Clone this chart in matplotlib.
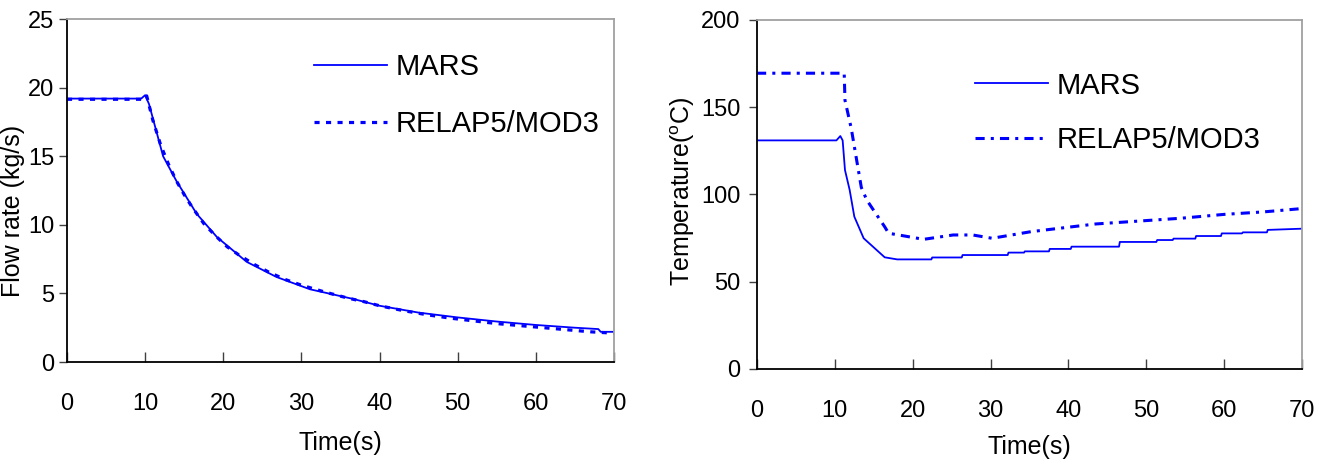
import numpy as np
import matplotlib
matplotlib.use('Agg')
import matplotlib.pyplot as plt

plt.rcParams['font.family'] = ['Liberation Sans', 'DejaVu Sans']
plt.rcParams['mathtext.fontset'] = 'custom'
plt.rcParams['mathtext.rm'] = 'Liberation Sans'

# flow rate panel
flow_t_mars = [0, 9.5, 10.0, 10.5, 12.3, 14.0, 16.6, 19.2, 23.0, 26.8, 31.1, 36.6, 40, 45, 50, 55, 60, 65, 68, 68.3, 70]
flow_mars = [19.2, 19.2, 19.45, 18.8, 15.0, 13.2, 10.8, 9.1, 7.3, 6.2, 5.3, 4.6, 4.1, 3.6, 3.25, 2.95, 2.7, 2.5, 2.4, 2.2, 2.2]
flow_t_relap = [0, 9.8, 10.2, 11, 12, 13, 14, 15, 16, 17.5, 19, 20.5, 22, 24, 26, 28, 30, 33, 36, 38, 40,
                43, 46, 49, 52, 55, 58, 61, 64, 67, 70]
flow_relap = [19.15, 19.15, 19.4, 17.6, 15.8, 14.4, 13.2, 12.2, 11.3, 10.1, 9.2, 8.4, 7.8, 7.1, 6.5, 6.0, 5.6,
              5.1, 4.65, 4.4, 4.1, 3.75, 3.45, 3.2, 3.0, 2.8, 2.65, 2.5, 2.35, 2.2, 2.1]

# temperature panel
temp_t_mars = [0, 10.2, 10.7, 11.0, 11.3, 11.9, 12.5, 13.7, 16.4, 18.0, 22.4, 22.5, 26.3, 26.4, 32.2, 32.3,
               34.3, 34.4, 37.5, 37.6, 40.3, 40.4, 46.5, 46.6, 51.3, 51.4, 53.4, 53.5, 56.3, 56.4,
               59.6, 59.7, 62.3, 62.4, 65.5, 65.6, 70]
temp_mars = [131, 131, 133.5, 131, 114, 102.6, 87.3, 74.9, 64.0, 62.8, 62.8, 63.9, 63.9, 65.3, 65.3, 66.7,
             66.7, 67.4, 67.4, 68.8, 68.8, 70.1, 70.1, 72.8, 72.8, 73.9, 73.9, 74.7, 74.7, 76.2,
             76.2, 77.7, 77.7, 78.3, 78.3, 79.7, 80.4]
temp_t_relap = [0, 11.2, 11.3, 12.1, 13.4, 14.1, 16.4, 16.9, 21.4, 25.2, 27.7, 30.2, 35.2, 43.5, 54.5, 60, 65, 69.4, 70]
temp_relap = [169.5, 169.5, 154, 138, 104, 96.8, 81.5, 77.8, 74.3, 76.8, 76.8, 74.9, 78.7, 83.1, 86.4, 88.6, 90.0, 91.7, 92]

labels = ['MARS', 'RELAP5/MOD3']
blue = '#0000ff'

fig = plt.figure(figsize=(13.37, 4.65), dpi=100)
ax1 = fig.add_axes([0.0501, 0.2215, 0.4091, 0.7376])
ax2 = fig.add_axes([0.5662, 0.2065, 0.4076, 0.7505])


def style_axes(ax, ymax):
    ax.set_xlim(0, 70)
    ax.set_ylim(0, ymax)
    ax.set_xticks(range(0, 71, 10))
    for side in ['top', 'right']:
        ax.spines[side].set_color('#a0a0a0')
        ax.spines[side].set_linewidth(1.3)
    for side in ['left', 'bottom']:
        ax.spines[side].set_color('black')
        ax.spines[side].set_linewidth(1.3)
    ax.tick_params(axis='x', direction='in', length=7, width=1, pad=22, labelsize=17, color='#404040')
    ax.tick_params(axis='y', direction='out', length=6, width=1, pad=3, labelsize=17, color='#404040')


style_axes(ax1, 25)
ax1.set_yticks(range(0, 26, 5))
l1, = ax1.plot(flow_t_mars, flow_mars, color=blue, lw=1.3)
l2, = ax1.plot(flow_t_relap, flow_relap, color=blue, lw=2.3, linestyle=(0, (1.6, 2.0)))
ax1.set_xlabel('Time(s)', fontsize=18)
ax1.set_ylabel('Flow rate (kg/s)', fontsize=18)
ax1.xaxis.set_label_coords(0.5, -0.2)
ax1.yaxis.set_label_coords(-0.076, 0.44)
ax1.legend([l1, l2], labels, loc='upper left', bbox_to_anchor=(0.452, 0.90), frameon=False,
           fontsize=21, handlelength=2.5, handletextpad=0.3, labelspacing=0.98,
           borderpad=0, borderaxespad=0)

style_axes(ax2, 200)
ax2.set_yticks(range(0, 201, 50))
ax2.tick_params(axis='y', pad=6)
m1, = ax2.plot(temp_t_mars, temp_mars, color=blue, lw=1.3)
m2, = ax2.plot(temp_t_relap, temp_relap, color=blue, lw=2.2, linestyle=(0, (3.0, 2.0, 1.0, 2.0)))
ax2.set_xlabel('Time(s)', fontsize=18)
ax2.set_ylabel('Temperature($^{\\mathrm{o}}$C)', fontsize=18)
ax2.xaxis.set_label_coords(0.5, -0.19)
ax2.yaxis.set_label_coords(-0.11, 0.51)
ax2.legend([m1, m2], labels, loc='upper left', bbox_to_anchor=(0.40, 0.852), frameon=False,
           fontsize=21, handlelength=2.5, handletextpad=0.3, labelspacing=0.9,
           borderpad=0, borderaxespad=0)

fig.savefig('out.png', dpi=100)
